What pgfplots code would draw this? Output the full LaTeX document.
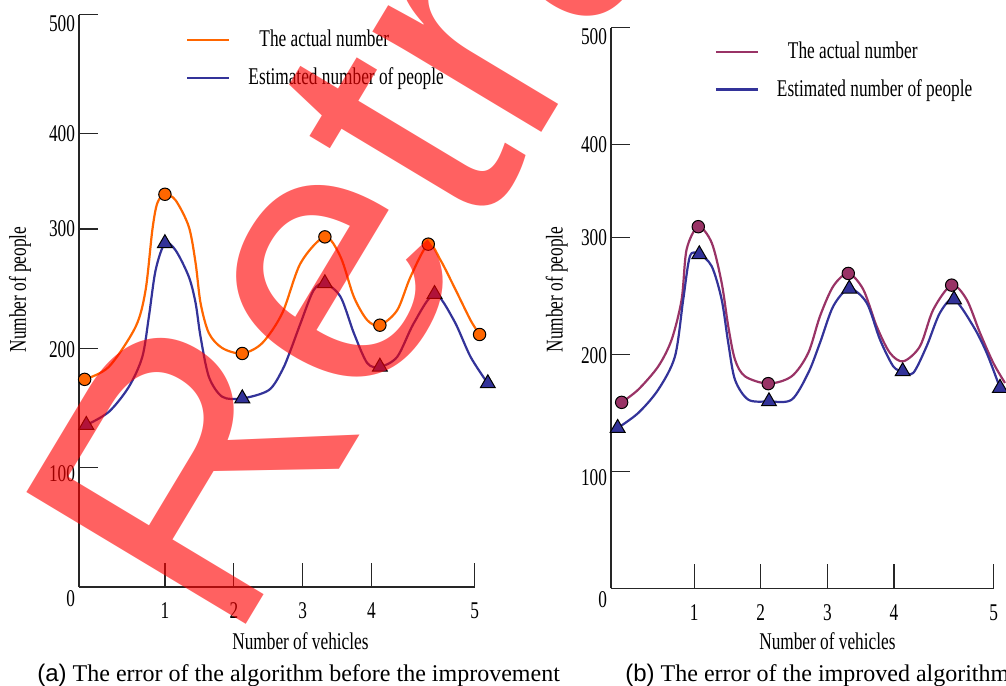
\documentclass[border=0pt]{standalone}
\usepackage{fontspec}
\setmainfont{Liberation Serif}
\setsansfont{Liberation Sans}
\newfontfamily\condserif{Liberation Serif}[FakeStretch=0.72]
\usepackage{pgfplots}
\pgfplotsset{compat=1.18}
\definecolor{cOrange}{RGB}{255,102,0}
\definecolor{cBlue}{RGB}{51,51,153}
\definecolor{cMaroon}{RGB}{153,51,102}
\newcommand\cfont{\condserif\fontsize{12}{14}\selectfont}
\tikzset{curve/.style={smooth, tension=0.5, line width=1.1pt}}
\pgfplotsset{
 myaxis/.style={
  scale only axis, anchor=south west,
  axis lines=left, axis line style={-, line width=0.6pt, black!85},
  tick align=inside, major tick length=9.5pt, tick style={line width=0.6pt, black!85},
  xtick style={/pgfplots/major tick length=12pt},
  xmin=-0.25, xmax=5.5, ymin=0, ymax=479.5,
  xtick={1,2,3,4,5.5}, xticklabels={1,2,3,4,5},
  ytick={0,100,200,300,380,479.5},
  yticklabels={\raisebox{-9.5pt}{0},\raisebox{-7pt}{100},\raisebox{-4.5pt}{200},\raisebox{-4pt}{300},\raisebox{-4pt}{400},\raisebox{-8.5pt}{500}},
  yticklabel style={anchor=base east, xshift=1.5pt, font=\cfont},
  xticklabel style={yshift=-4.5pt, font=\cfont},
  label style={font=\cfont},
  clip=false,
  legend style={draw=none, fill=none, anchor=north west, font=\cfont, inner sep=0pt, row sep=5pt},
  legend cell align=left,
  legend image code/.code={\draw[#1] (0pt,0pt) -- (21pt,0pt);},
 }
}
\begin{document}
\begin{tikzpicture}[x=0.5pt,y=0.5pt]
% ---------------- (a) ----------------
\begin{axis}[myaxis, at={(39.5pt,49pt)}, width=197.9pt, height=286.1pt,
  xlabel={Number of vehicles}, ylabel={Number of people},
  xlabel style={at={(axis description cs:0.5595,-0.110)}, anchor=base},
  ylabel style={at={(axis description cs:-0.149,0.52)}, anchor=center},
  legend style={at={(axis description cs:0.27,0.981)}}]
\addplot[curve, cOrange] coordinates {(-0.168,174.0) (0.184,184.5) (0.572,218.0) (0.717,248.7) (0.815,299.0) (0.887,321.6) (0.998,329.1) (1.153,324.1) (1.346,301.8) (1.444,271.4) (1.516,237.9) (1.637,212.7) (1.832,200.2) (2.122,195.7) (2.412,204.4) (2.703,229.5) (2.969,271.4) (3.322,293.4) (3.550,276.6) (3.743,243.1) (3.938,223.6) (4.121,219.4) (4.373,232.0) (4.566,259.9) (4.824,287.3) (5.002,273.9) (5.245,246.2) (5.438,223.6) (5.569,211.6)};
\addlegendentry{\hspace{12.5pt}The actual number}
\addplot[curve, cBlue] coordinates {(-0.144,135.7) (0.184,146.8) (0.475,167.8) (0.670,192.9) (0.765,226.4) (0.863,265.5) (0.998,288.0) (1.153,282.2) (1.346,259.9) (1.444,237.9) (1.516,209.6) (1.637,176.1) (1.832,159.4) (2.122,158.0) (2.508,165.0) (2.703,181.7) (2.824,198.5) (2.969,221.1) (3.158,248.7) (3.322,254.4) (3.550,243.1) (3.743,212.7) (3.938,187.6) (4.121,184.5) (4.373,192.9) (4.614,221.1) (4.915,245.4) (5.195,223.6) (5.438,192.9) (5.689,170.6)};
\addlegendentry{\hspace{7pt}Estimated number of people}
\addplot[only marks, mark=*, mark size=3.1pt, mark options={fill=cOrange, draw=black, line width=0.5pt}, forget plot] coordinates {(-0.168,174.0) (0.998,329.1) (2.122,195.7) (3.322,293.4) (4.121,219.4) (4.824,287.3) (5.569,211.6)};
\addplot[only marks, mark=triangle*, mark size=4.3pt, mark options={fill=cBlue, draw=black, line width=0.5pt}, forget plot] coordinates {(-0.144,135.7) (0.998,288.0) (2.122,158.0) (3.322,254.4) (4.121,184.5) (4.915,245.4) (5.689,170.6)};
\end{axis}
% ---------------- (b) ----------------
\begin{axis}[myaxis, at={(305.5pt,48.35pt)}, width=191.4pt, height=280.2pt,
  xlabel={Number of vehicles}, ylabel={Number of people},
  xlabel style={at={(axis description cs:0.5653,-0.110)}, anchor=base},
  ylabel style={at={(axis description cs:-0.142,0.533)}, anchor=center},
  legend style={at={(axis description cs:0.27,0.983)}}]
\addplot[curve, cMaroon] coordinates {(-0.090,159.1) (0.159,170.0) (0.460,189.9) (0.661,212.8) (0.811,247.1) (0.886,290.0) (1.061,309.4) (1.262,295.7) (1.412,261.4) (1.511,224.2) (1.612,195.7) (1.762,181.4) (2.112,175.1) (2.464,181.4) (2.713,201.4) (2.889,232.8) (3.089,258.5) (3.314,269.4) (3.539,255.7) (3.740,224.2) (3.940,201.4) (4.140,194.2) (4.391,207.1) (4.591,238.5) (4.867,259.4) (5.092,247.1) (5.292,218.6) (5.492,192.9) (5.668,175.7)};
\addlegendentry{\hspace{12.5pt}The actual number}
\addplot[curve, cBlue] coordinates {(-0.150,137.1) (0.159,150.0) (0.460,170.0) (0.711,198.5) (0.835,247.1) (0.936,284.2) (1.076,285.7) (1.262,275.6) (1.412,247.1) (1.511,210.0) (1.612,178.5) (1.812,161.4) (2.123,159.9) (2.464,161.4) (2.713,184.3) (2.889,210.0) (3.089,241.4) (3.329,256.3) (3.590,244.3) (3.790,212.8) (3.990,189.9) (4.131,185.6) (4.290,184.3) (4.491,207.1) (4.691,235.7) (4.902,247.1) (5.192,224.2) (5.393,201.4) (5.593,171.4)};
\addlegendentry{\hspace{7pt}Estimated number of people}
\addplot[only marks, mark=*, mark size=3.1pt, mark options={fill=cMaroon, draw=black, line width=0.5pt}, forget plot] coordinates {(-0.090,159.1) (1.061,309.4) (2.112,175.1) (3.314,269.4) (4.867,259.4)};
\addplot[only marks, mark=triangle*, mark size=4.3pt, mark options={fill=cBlue, draw=black, line width=0.5pt}, forget plot] coordinates {(-0.150,137.1) (1.076,285.7) (2.123,159.9) (3.329,256.3) (4.131,185.6) (4.902,247.1) (5.593,171.4)};
\end{axis}
% ---------------- captions ----------------
\node[anchor=base west, inner sep=0pt, font=\fontsize{12}{14}\selectfont] at (18.5pt,1.65pt) {{\sffamily(a)} The error of the algorithm before the improvement};
\node[anchor=base west, inner sep=0pt, font=\fontsize{12}{14}\selectfont] at (312.5pt,1.65pt) {{\sffamily(b)} The error of the improved algorithm};
% ---------------- watermark ----------------
\node[anchor=base west, inner sep=0pt, rotate=59, text=red, text opacity=0.62, font=\sffamily\fontsize{186}{186}\selectfont] at (115.25pt,17.2pt) {Retracted};
\pgfresetboundingbox
\useasboundingbox (0pt,0pt) rectangle (503pt,342.5pt);
\end{tikzpicture}
\end{document}
